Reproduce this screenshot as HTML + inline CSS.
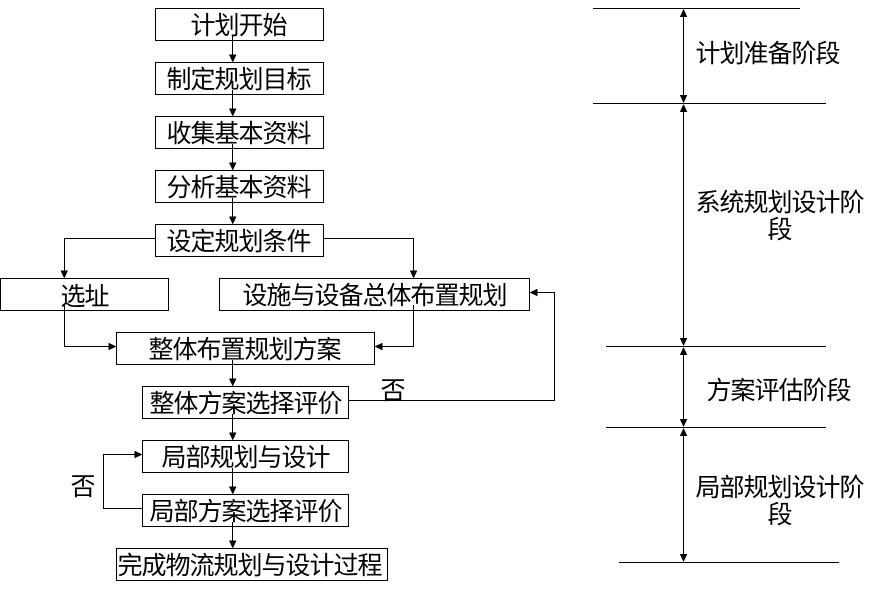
<!DOCTYPE html>
<html><head><meta charset="utf-8"><style>
html,body{margin:0;padding:0;background:#fff;width:879px;height:593px;overflow:hidden}
svg{display:block}
text{font-family:"Liberation Sans","Noto Sans CJK SC",sans-serif;font-size:25px;letter-spacing:-1px;fill:#000;font-weight:400}
</style></head><body>
<svg width="879" height="593" viewBox="0 0 879 593" xmlns="http://www.w3.org/2000/svg">
<g fill="#fff" stroke="#000" stroke-width="1">
<rect x="155.5" y="8.5" width="168" height="32"/>
<rect x="155.5" y="62.5" width="168" height="32"/>
<rect x="155.5" y="116.5" width="168" height="32"/>
<rect x="155.5" y="170.5" width="168" height="32"/>
<rect x="155.5" y="224.5" width="168" height="32"/>
<rect x="0.5" y="278.5" width="168" height="32"/>
<rect x="219.5" y="278.5" width="310" height="32"/>
<rect x="116.5" y="332.5" width="258" height="32"/>
<rect x="142.5" y="386.5" width="206" height="32"/>
<rect x="142.5" y="440.5" width="206" height="32"/>
<rect x="142.5" y="494.5" width="206" height="32"/>
<rect x="116.5" y="548.5" width="271" height="32"/>
</g>
<g>
<text x="190.500" y="34">计划开始</text>
<text x="166.500" y="88">制定规划目标</text>
<text x="166.500" y="142">收集基本资料</text>
<text x="166.500" y="196">分析基本资料</text>
<text x="166.500" y="250">设定规划条件</text>
<text x="60.500" y="305">选址</text>
<text x="242.500" y="304">设施与设备总体布置规划</text>
<text x="148.500" y="358">整体布置规划方案</text>
<text x="149.500" y="412">整体方案选择评价</text>
<text x="161.500" y="466">局部规划与设计</text>
<text x="149.500" y="520">局部方案选择评价</text>
<text x="117.500" y="574">完成物流规划与设计过程</text>
<text x="380.500" y="399">否</text>
<text x="70.500" y="495">否</text>
<text x="695.500" y="62">计划准备阶段</text>
<text x="695.500" y="211">系统规划设计阶</text>
<text x="767.500" y="238">段</text>
<text x="706.500" y="399">方案评估阶段</text>
<text x="695.500" y="496">局部规划设计阶</text>
<text x="767.500" y="523">段</text>
</g>
<g fill="none" stroke="#000" stroke-width="1">
<path d="M232.5 36V55M232.5 90V109M232.5 144V163M232.5 198V217M232.5 360V379M232.5 414V433M232.5 468V487M232.5 522V541"/>
<path d="M155 238.5H64.5V271"/>
<path d="M323 238.5H413.5V271"/>
<path d="M413.5 305V346.5H381"/>
<path d="M64.5 305V346.5H109"/>
<path d="M348 400.5H554.5V292.5H536"/>
<path d="M142 508.5H103.5V454.5H135"/>
<path d="M593 8.5H800M593 103.5H826M606 346.5H826M606 427.5H826M619 562.5H839"/>
<path d="M683.5 14V98M683.5 109V341M683.5 352V422M683.5 433V557"/>
</g>
<g fill="#000">
<path d="M229 54.500h7.500l-3.750 8z"/>
<path d="M229 108.500h7.500l-3.750 8z"/>
<path d="M229 162.500h7.500l-3.750 8z"/>
<path d="M229 216.500h7.500l-3.750 8z"/>
<path d="M229 378.500h7.500l-3.750 8z"/>
<path d="M229 432.500h7.500l-3.750 8z"/>
<path d="M229 486.500h7.500l-3.750 8z"/>
<path d="M229 540.500h7.500l-3.750 8z"/>
<path d="M60.500 270.500h7.500l-3.750 8z"/>
<path d="M409.800 270.500h7.500l-3.750 8z"/>
<path d="M108.500 342.800v7.500l8-3.750z"/>
<path d="M382.500 342.800v7.500l-8-3.750z"/>
<path d="M537.500 288.800v7.500l-8-3.750z"/>
<path d="M134.500 450.800v7.500l8-3.750z"/>
<path d="M679.800 17l3.750-8 3.750 8z"/>
<path d="M679.800 95h7.500l-3.750 8z"/>
<path d="M679.800 112l3.750-8 3.750 8z"/>
<path d="M679.800 338h7.500l-3.750 8z"/>
<path d="M679.800 355l3.750-8 3.750 8z"/>
<path d="M679.800 419h7.500l-3.750 8z"/>
<path d="M679.800 436l3.750-8 3.750 8z"/>
<path d="M679.800 554h7.500l-3.750 8z"/>
</g>
</svg>
</body></html>
